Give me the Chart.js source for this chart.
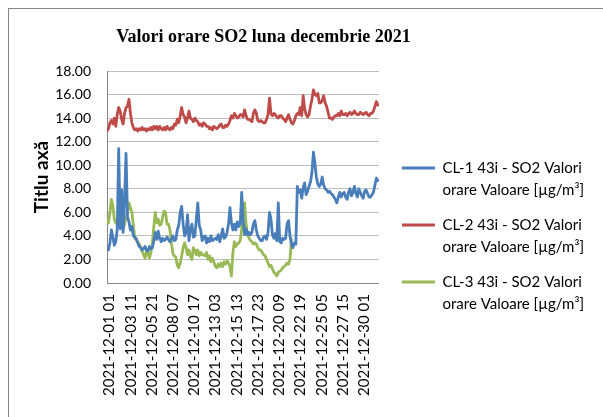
<!DOCTYPE html>
<html>
<head>
<meta charset="utf-8">
<script src="https://cdn.jsdelivr.net/npm/chart.js@4.4.1/dist/chart.umd.min.js"></script>
<style>
  html, body { margin: 0; padding: 0; background: #ffffff; }
  canvas { display: block; }
</style>
</head>
<body>
<canvas id="chart" width="603" height="417"></canvas>
<script>
// ---- data ----
const chartTitle = 'Valori orare SO2 luna decembrie 2021';
const yAxisTitle = 'Titlu axă';
const STEP_HOURS = 4;           // one value every 4 hours, hour 0 = 2021-12-01 01
const LABEL_EVERY_HOURS = 58;   // a category label every 58 hours
const xTickLabels = [
  '2021-12-01 01', '2021-12-03 11', '2021-12-05 21', '2021-12-08 07',
  '2021-12-10 17', '2021-12-13 03', '2021-12-15 13', '2021-12-17 23',
  '2021-12-20 09', '2021-12-22 19', '2021-12-25 05', '2021-12-27 15',
  '2021-12-30 01'
];
const yTicks = [0, 2, 4, 6, 8, 10, 12, 14, 16, 18];

const seriesNames = [
  ['CL-1 43i - SO2 Valori', 'orare Valoare [µg/m³]'],
  ['CL-2 43i - SO2 Valori', 'orare Valoare [µg/m³]'],
  ['CL-3 43i - SO2 Valori', 'orare Valoare [µg/m³]']
];

const cl1 = [
  3.0,2.8,3.4,4.5,3.9,3.2,3.5,4.6,11.4,4.6,
  7.9,4.3,7.0,11.0,5.6,5.2,4.5,4.8,4.0,3.9,
  3.7,3.4,3.1,3.0,2.8,2.9,3.1,2.8,2.7,3.1,
  2.9,3.0,3.6,4.3,3.7,4.4,3.8,3.5,3.8,3.6,
  3.7,3.9,3.7,3.5,3.7,4.0,3.6,3.7,4.5,4.9,
  6.0,6.5,5.0,4.0,4.3,5.8,3.6,4.6,5.0,3.9,
  4.0,5.4,6.8,4.9,4.5,3.6,3.9,4.0,3.4,3.8,
  3.5,4.0,3.6,3.7,3.8,3.7,4.1,3.5,4.0,4.6,
  3.8,3.9,4.3,5.0,6.4,5.1,4.5,5.0,4.5,5.2,
  4.8,5.0,7.7,5.4,4.1,4.6,4.1,4.3,4.1,4.3,
  5.0,5.3,4.5,4.0,3.8,3.6,3.6,3.9,4.0,3.7,
  4.3,6.0,5.4,4.1,3.8,4.2,3.6,6.8,3.5,3.4,
  3.8,3.7,3.8,5.0,5.3,4.0,3.3,3.0,3.4,3.3,
  8.2,7.7,7.9,7.2,8.1,8.5,7.5,7.8,8.2,8.6,
  9.4,11.1,10.2,9.0,8.4,8.2,8.4,9.0,8.3,8.0,
  7.9,7.7,7.8,7.6,7.5,7.3,7.1,6.8,7.3,7.7,
  7.3,7.6,7.7,7.3,7.1,7.7,8.0,7.4,7.7,8.2,
  7.6,7.3,8.0,7.7,7.4,7.2,7.8,7.9,7.6,7.3,
  7.3,7.5,7.7,8.3,8.9,8.7
];

const cl2 = [
  12.9,13.1,13.6,13.8,13.5,14.0,13.3,14.3,14.9,14.6,
  13.9,13.5,14.4,14.9,15.0,15.6,14.4,13.6,13.2,13.0,
  13.1,12.9,13.1,13.0,13.2,13.0,13.1,12.9,13.1,13.0,
  13.2,13.0,13.3,13.1,13.3,13.0,13.3,13.1,13.0,13.2,
  13.0,13.3,13.1,13.0,13.2,13.1,13.5,13.4,13.9,13.6,
  14.2,14.9,14.3,14.1,13.6,14.0,14.6,14.0,13.9,13.7,
  14.0,13.8,13.7,13.4,13.5,13.3,13.6,13.5,13.3,13.3,
  13.1,13.2,13.0,13.3,13.2,13.1,13.2,13.4,13.5,13.2,
  13.2,13.4,13.3,13.5,13.8,14.2,14.0,14.4,14.2,14.0,
  14.1,14.3,14.3,14.1,14.7,14.2,13.9,13.9,13.8,13.7,
  14.4,14.7,14.4,13.8,13.7,13.8,13.7,13.6,13.6,13.9,
  14.3,15.7,14.4,14.2,14.4,14.3,14.1,14.0,14.2,14.2,
  14.0,13.9,13.7,14.0,14.3,13.9,13.6,13.5,13.8,14.2,
  14.4,14.3,14.9,14.2,15.9,14.8,14.3,14.1,14.3,15.0,
  15.6,16.4,16.0,15.9,16.1,15.3,15.3,15.5,15.9,15.3,
  15.0,14.5,14.0,14.0,13.9,14.1,14.2,14.2,14.4,14.2,
  14.6,14.3,14.3,14.4,14.2,14.4,14.5,14.3,14.4,14.6,
  14.4,14.3,14.3,14.5,14.4,14.3,14.4,14.5,14.3,14.2,
  14.4,14.4,14.6,15.0,15.4,15.1
];

const cl3 = [
  5.4,5.1,6.0,7.1,6.6,5.4,5.1,5.3,5.8,4.7,
  5.4,4.6,5.0,5.5,6.0,6.8,6.4,6.0,4.9,3.8,
  3.8,3.5,3.3,3.1,2.7,2.4,2.1,2.8,2.5,2.1,
  2.6,3.4,4.8,6.0,5.1,5.4,4.9,5.0,5.6,6.1,
  6.0,5.0,5.0,4.5,3.4,2.5,2.3,2.2,1.5,1.3,
  1.7,2.3,3.0,3.4,3.0,2.4,2.8,2.3,2.0,3.0,
  2.8,2.4,2.8,2.3,2.6,2.4,2.4,2.3,2.6,2.0,
  2.3,1.8,2.1,1.8,1.4,1.3,1.6,1.4,1.7,1.4,
  1.8,1.6,1.9,1.7,1.4,0.6,2.6,3.5,3.1,3.3,
  3.4,3.6,4.5,6.5,6.8,5.0,4.1,3.8,3.6,3.5,
  3.3,3.4,3.3,3.0,2.8,2.8,2.6,2.4,2.3,2.0,
  1.7,1.4,1.5,1.2,0.9,0.8,0.6,0.9,1.0,1.1,
  1.3,1.4,1.5,1.7,1.6,2.0,3.7
];

const seriesColors = ['#4A7EBB', '#BE4B48', '#98B954'];

// ---- chart ----
const toPoints = arr => arr.map((v, i) => ({ x: i * STEP_HOURS, y: v }));
const FONT = 'Lato';

const decor = {
  id: 'decor',
  beforeDraw(chart) {
    const c = chart.ctx;
    c.save();
    c.fillStyle = '#ffffff';
    c.fillRect(0, 0, chart.width, chart.height);
    c.strokeStyle = '#868686';
    c.lineWidth = 1;
    c.strokeRect(8.5, 8.5, chart.width + 20, chart.height + 20);
    c.restore();
  },
  afterDraw(chart) {
    const c = chart.ctx;
    c.save();
    c.font = 'bold 18px "Liberation Serif", "Times New Roman", serif';
    c.fillStyle = '#000000';
    c.textAlign = 'center';
    c.textBaseline = 'middle';
    c.fillText(chartTitle, 263.5, 37);
    c.restore();
  }
};

const datasets = [cl1, cl2, cl3].map((arr, k) => ({
  label: seriesNames[k],
  data: toPoints(arr),
  borderColor: seriesColors[k],
  backgroundColor: seriesColors[k],
  borderWidth: 2.8,
  borderJoinStyle: 'round',
  borderCapStyle: 'round',
  pointRadius: 0,
  tension: 0,
  fill: false
}));

new Chart(document.getElementById('chart').getContext('2d'), {
  type: 'line',
  data: { datasets },
  options: {
    responsive: false,
    animation: false,
    devicePixelRatio: 1,
    layout: { padding: { left: 8, top: 71, right: 9, bottom: 8 } },
    plugins: {
      title: { display: false },
      tooltip: { enabled: false },
      legend: {
        position: 'right',
        align: 'center',
        maxWidth: 230,
        labels: {
          usePointStyle: true,
          pointStyle: 'line',
          pointStyleWidth: 33,
          padding: 12,
          color: '#000000',
          font: { family: FONT, size: 15, lineHeight: 1.5 }
        }
      }
    },
    scales: {
      x: {
        type: 'linear',
        min: 0,
        max: 743,
        afterBuildTicks: s => { s.ticks = xTickLabels.map((_, i) => ({ value: i * LABEL_EVERY_HOURS })); },
        afterFit: s => { s.height = 126; },
        grid: { display: false, drawTicks: false },
        border: { display: true, color: '#868686', width: 1 },
        ticks: {
          autoSkip: false,
          minRotation: 90,
          maxRotation: 90,
          padding: 11,
          labelOffset: 2.5,
          color: '#000000',
          font: { family: FONT, size: 15 },
          callback: (v, i) => xTickLabels[i]
        }
      },
      y: {
        min: 0,
        max: 18,
        afterBuildTicks: s => { s.ticks = yTicks.map(v => ({ value: v })); },
        afterFit: s => { s.width = 99; },
        grid: { color: '#BFBFBF', drawTicks: false },
        border: { display: true, color: '#868686', width: 1 },
        ticks: {
          padding: 16,
          color: '#000000',
          font: { family: FONT, size: 14 },
          callback: v => Number(v).toFixed(2)
        },
        title: {
          display: true,
          text: yAxisTitle,
          color: '#000000',
          font: { family: FONT, size: 19, weight: 'bold' },
          padding: { top: 22, bottom: 0 }
        }
      },
      gap: {
        type: 'linear',
        position: 'right',
        display: true,
        grid: { display: false, drawTicks: false },
        border: { display: false },
        ticks: { display: false },
        afterFit: s => { s.width = 11; }
      }
    }
  },
  plugins: [decor]
});
</script>
</body>
</html>
